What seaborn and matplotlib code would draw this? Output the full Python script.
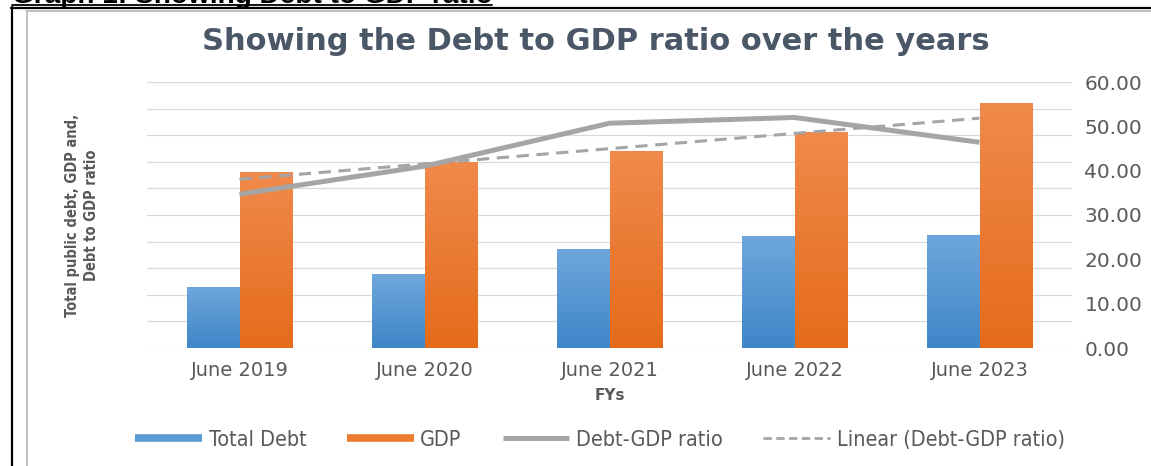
import numpy as np
import pandas as pd
import matplotlib
matplotlib.use("Agg")
import matplotlib.pyplot as plt
from matplotlib.lines import Line2D
from matplotlib.colors import LinearSegmentedColormap
import seaborn as sns

# ---- data ----
fys = ["June 2019", "June 2020", "June 2021", "June 2022", "June 2023"]
total_debt = [13.8, 16.8, 22.4, 25.3, 25.6]
gdp = [39.6, 41.9, 44.4, 48.8, 55.3]
debt_gdp_ratio = [34.7, 41.0, 50.7, 52.0, 46.4]
right_ticks = [0, 10, 20, 30, 40, 50, 60]

series_names = ["Total Debt", "GDP", "Debt-GDP ratio", "Linear (Debt-GDP ratio)"]

sns.set_theme(style="white")
plt.rcParams["font.family"] = ["DejaVu Sans"]

W, H = 1151, 466
fig = plt.figure(figsize=(W / 100, H / 100), dpi=100)
fig.patch.set_facecolor("white")

def fx(px):
    return px / W

def fy(py):
    return 1 - py / H

ax = fig.add_axes([fx(147), fy(348), fx(1072) - fx(147), fy(82) - fy(348)])

df = pd.DataFrame({
    "FY": fys * 2,
    "value": total_debt + gdp,
    "series": [series_names[0]] * len(fys) + [series_names[1]] * len(fys),
})
blue_mid, orange_mid = "#5a9bd5", "#ed7d31"
sns.barplot(data=df, x="FY", y="value", hue="series", palette=[blue_mid, orange_mid],
            width=0.57, saturation=1, legend=False, ax=ax, zorder=2)

# gradient fill on bars
cm_blue = LinearSegmentedColormap.from_list("b", ["#3f86c8", "#6fa7dc"])
cm_orange = LinearSegmentedColormap.from_list("o", ["#e56b1b", "#f08a4b"])
grad = np.linspace(0, 1, 256).reshape(-1, 1)
bars = list(ax.patches)
for i, p in enumerate(bars):
    cmap = cm_blue if i < len(fys) else cm_orange
    x0, y0 = p.get_x(), p.get_y()
    w, h = p.get_width(), p.get_height()
    im = ax.imshow(grad, cmap=cmap, extent=[x0, x0 + w, y0, y0 + h], origin="lower",
                   aspect="auto", zorder=2.1)
    im.set_clip_path(p)
    p.set_edgecolor("none")

xs = np.arange(len(fys))
sns.lineplot(x=xs, y=debt_gdp_ratio, color="#a5a5a5", lw=3.6, ax=ax, zorder=4,
             solid_capstyle="butt")
coef = np.polyfit(xs, debt_gdp_ratio, 1)
trend = np.polyval(coef, xs)
ax.plot(xs, trend, color="#a5a5a5", lw=2.2, ls=(0, (4, 2.5)), zorder=3.5)

ax.set_xlim(-0.5, len(fys) - 0.5)
ax.set_ylim(0, 60)
ax.set_yticks(np.arange(0, 61, 6))
ax.yaxis.grid(True, color="#d9d9d9", lw=0.9)
ax.set_axisbelow(True)
for s in ax.spines.values():
    s.set_visible(False)
ax.set_ylabel("")
ax.set_xlabel("FYs", fontsize=11, fontweight="bold", color="#595959", labelpad=6)

ax2 = ax.twinx()
ax2.set_ylim(0, 60)
ax2.set_yticks(right_ticks)
ax2.set_yticklabels([f"{v:.2f}" for v in right_ticks])
ax2.tick_params(axis="y", right=False, length=0, pad=9, labelsize=14.5, labelcolor="#595959")
for s in ax2.spines.values():
    s.set_visible(False)
ax2.grid(False)

ax.tick_params(axis="y", left=False, right=False, length=0, labelleft=False)
ax.tick_params(axis="x", bottom=False, length=0, pad=9, labelsize=14, labelcolor="#595959")

# title
fig.text(fx(596), fy(42), "Showing the Debt to GDP ratio over the years", ha="center",
         va="center", fontsize=22, fontweight="bold", color="#4a5767")

# y label
fig.text(fx(82), fy(215), "Total public debt, GDP and,\nDebt to GDP ratio", rotation=90,
         ha="center", va="center", multialignment="center", fontsize=10.5,
         fontweight="bold", color="#595959", fontstretch="condensed", linespacing=1.25)

# header text (cut off at the top, as in the source)
fig.text(fx(12), fy(3), "Graph 1: Showing Debt to GDP ratio", ha="left", va="baseline",
         fontsize=20.2, fontweight="bold", color="black", family="Liberation Sans")
fig.add_artist(Line2D([fx(12), fx(492)], [fy(5), fy(5)], color="black", lw=1.3))

# borders
fig.add_artist(Line2D([fx(11.5), fx(11.5)], [0, fy(7)], color="black", lw=1.6))
fig.add_artist(Line2D([fx(11), 1], [fy(7.5), fy(7.5)], color="black", lw=1.6))
fig.add_artist(Line2D([fx(26.5), fx(26.5)], [0, fy(10.5)], color="#c0c0c0", lw=1.4))
fig.add_artist(Line2D([fx(26), 1], [fy(10.5), fy(10.5)], color="#c0c0c0", lw=1.4))

# legend
handles = [
    Line2D([], [], color=blue_mid, lw=5.5, solid_capstyle="butt"),
    Line2D([], [], color=orange_mid, lw=5.5, solid_capstyle="butt"),
    Line2D([], [], color="#a5a5a5", lw=3.6, solid_capstyle="butt"),
    Line2D([], [], color="#a5a5a5", lw=2.0, ls=(0, (3, 1.6))),
]
leg = fig.legend(handles, series_names, loc="center", bbox_to_anchor=(fx(600), fy(440)),
                 ncol=4, frameon=False, handlelength=3.1, handletextpad=0.3,
                 columnspacing=1.9, prop={"family": "DejaVu Sans", "stretch": "condensed",
                                          "size": 15.5})
for t in leg.get_texts():
    t.set_color("#595959")

fig.savefig("out.png", dpi=100, facecolor="white")
